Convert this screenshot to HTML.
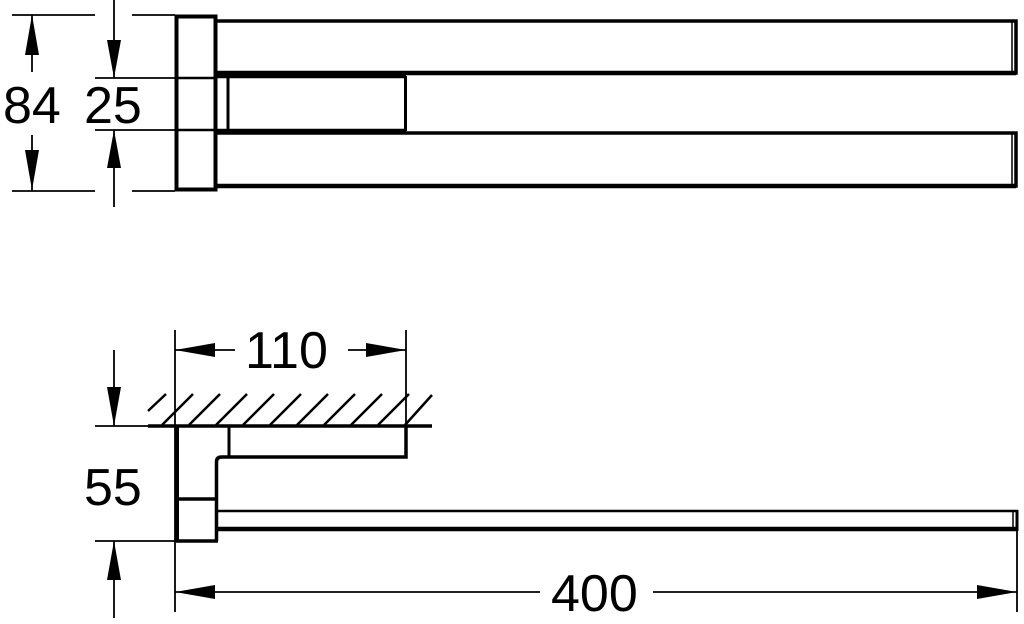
<!DOCTYPE html>
<html><head><style>
html,body{margin:0;padding:0;background:#fff;width:1024px;height:624px;overflow:hidden}
svg text{font-family:"Liberation Sans",sans-serif;font-size:52px;fill:#000}
</style></head><body>
<svg width="1024" height="624" viewBox="0 0 1024 624" xmlns="http://www.w3.org/2000/svg">
<g stroke="#000" fill="none" stroke-linecap="butt">
<line x1="12" y1="15" x2="95" y2="15" stroke-width="1.8"/>
<line x1="12" y1="191" x2="95" y2="191" stroke-width="1.8"/>
<line x1="132" y1="15" x2="175" y2="15" stroke-width="1.8"/>
<line x1="132" y1="191" x2="175" y2="191" stroke-width="1.8"/>
<line x1="95" y1="78" x2="175" y2="78" stroke-width="1.8"/>
<line x1="95" y1="130" x2="175" y2="130" stroke-width="1.8"/>
<line x1="32" y1="15" x2="32" y2="72" stroke-width="1.8"/>
<line x1="32" y1="135" x2="32" y2="191" stroke-width="1.8"/>
<line x1="114" y1="0" x2="114" y2="78" stroke-width="1.8"/>
<line x1="114" y1="130" x2="114" y2="207" stroke-width="1.8"/>
<rect x="176.5" y="16.5" width="39" height="173" stroke-width="4"/>
<line x1="176" y1="78" x2="216" y2="78" stroke-width="2.5"/>
<line x1="176" y1="130" x2="216" y2="130" stroke-width="2.5"/>
<path d="M216 21 H1016 V73 H216" stroke-width="3.5"/>
<line x1="216" y1="73" x2="1016" y2="73" stroke-width="4.5"/>
<line x1="1012" y1="21" x2="1012" y2="73" stroke-width="1.5"/>
<line x1="216" y1="76" x2="406" y2="76" stroke-width="4.5"/>
<line x1="216" y1="131" x2="406" y2="131" stroke-width="4.5"/>
<line x1="228" y1="76" x2="228" y2="131" stroke-width="3"/>
<line x1="405.5" y1="76" x2="405.5" y2="131" stroke-width="3"/>
<path d="M216 133 H1016 V186 H216" stroke-width="3.5"/>
<line x1="216" y1="186" x2="1016" y2="186" stroke-width="4.5"/>
<line x1="1012" y1="133" x2="1012" y2="186" stroke-width="1.5"/>

<line x1="175" y1="330" x2="175" y2="612" stroke-width="1.8"/>
<line x1="406" y1="330" x2="406" y2="426" stroke-width="1.8"/>
<line x1="175" y1="350" x2="235" y2="350" stroke-width="1.8"/>
<line x1="348" y1="350" x2="406" y2="350" stroke-width="1.8"/>
<line x1="95" y1="426" x2="175" y2="426" stroke-width="1.8"/>
<line x1="95" y1="541" x2="175" y2="541" stroke-width="1.8"/>
<line x1="114" y1="350" x2="114" y2="426" stroke-width="1.8"/>
<line x1="114" y1="541" x2="114" y2="618" stroke-width="1.8"/>
<line x1="1017" y1="511" x2="1017" y2="612" stroke-width="1.8"/>
<line x1="175" y1="592" x2="540" y2="592" stroke-width="1.8"/>
<line x1="653" y1="592" x2="1017" y2="592" stroke-width="1.8"/>
<line x1="148" y1="426" x2="432" y2="426" stroke-width="3.5"/>
<g stroke-width="2.5">
<line x1="148" y1="411" x2="166" y2="394"/>
<line x1="162" y1="425" x2="193" y2="394"/>
<line x1="189" y1="425" x2="220" y2="394"/>
<line x1="216" y1="425" x2="247" y2="394"/>
<line x1="243" y1="425" x2="274" y2="394"/>
<line x1="270" y1="425" x2="301" y2="394"/>
<line x1="297" y1="425" x2="328" y2="394"/>
<line x1="324" y1="425" x2="355" y2="394"/>
<line x1="351" y1="425" x2="382" y2="394"/>
<line x1="378" y1="425" x2="409" y2="394"/>
<line x1="405" y1="425" x2="432" y2="395"/>
</g>
<line x1="177" y1="426" x2="177" y2="542" stroke-width="4"/>
<line x1="176" y1="541" x2="218" y2="541" stroke-width="3.5"/>
<line x1="177" y1="499" x2="217" y2="499" stroke-width="3.5"/>
<path d="M216.5 541 V462 Q216.5 457 221.5 457 H406 V426" stroke-width="3.5"/>
<line x1="229" y1="426" x2="229" y2="457" stroke-width="3"/>
<line x1="216" y1="511" x2="1018" y2="511" stroke-width="2.5"/>
<line x1="216" y1="529" x2="1018" y2="529" stroke-width="4.5"/>
<line x1="1017" y1="510" x2="1017" y2="531" stroke-width="3"/>
<line x1="1013" y1="511" x2="1013" y2="529" stroke-width="1.5"/>
</g>
<g fill="#000">
<polygon points="32,15 25,55 39,55"/>
<polygon points="32,190 25,150 39,150"/>
<polygon points="114,78 107,40 121,40"/>
<polygon points="114,130 107,168 121,168"/>
<polygon points="175,350 215,343 215,357"/>
<polygon points="406,350 366,343 366,357"/>
<polygon points="114,426 107,387 121,387"/>
<polygon points="114,541 107,580 121,580"/>
<polygon points="175,592 215,585 215,599"/>
<polygon points="1017,592 977,585 977,599"/>
</g>
<text x="3" y="123">84</text>
<text x="84" y="123">25</text>
<text x="245" y="368">110</text>
<text x="84" y="505">55</text>
<text x="551" y="611">400</text>
</svg>
</body></html>
